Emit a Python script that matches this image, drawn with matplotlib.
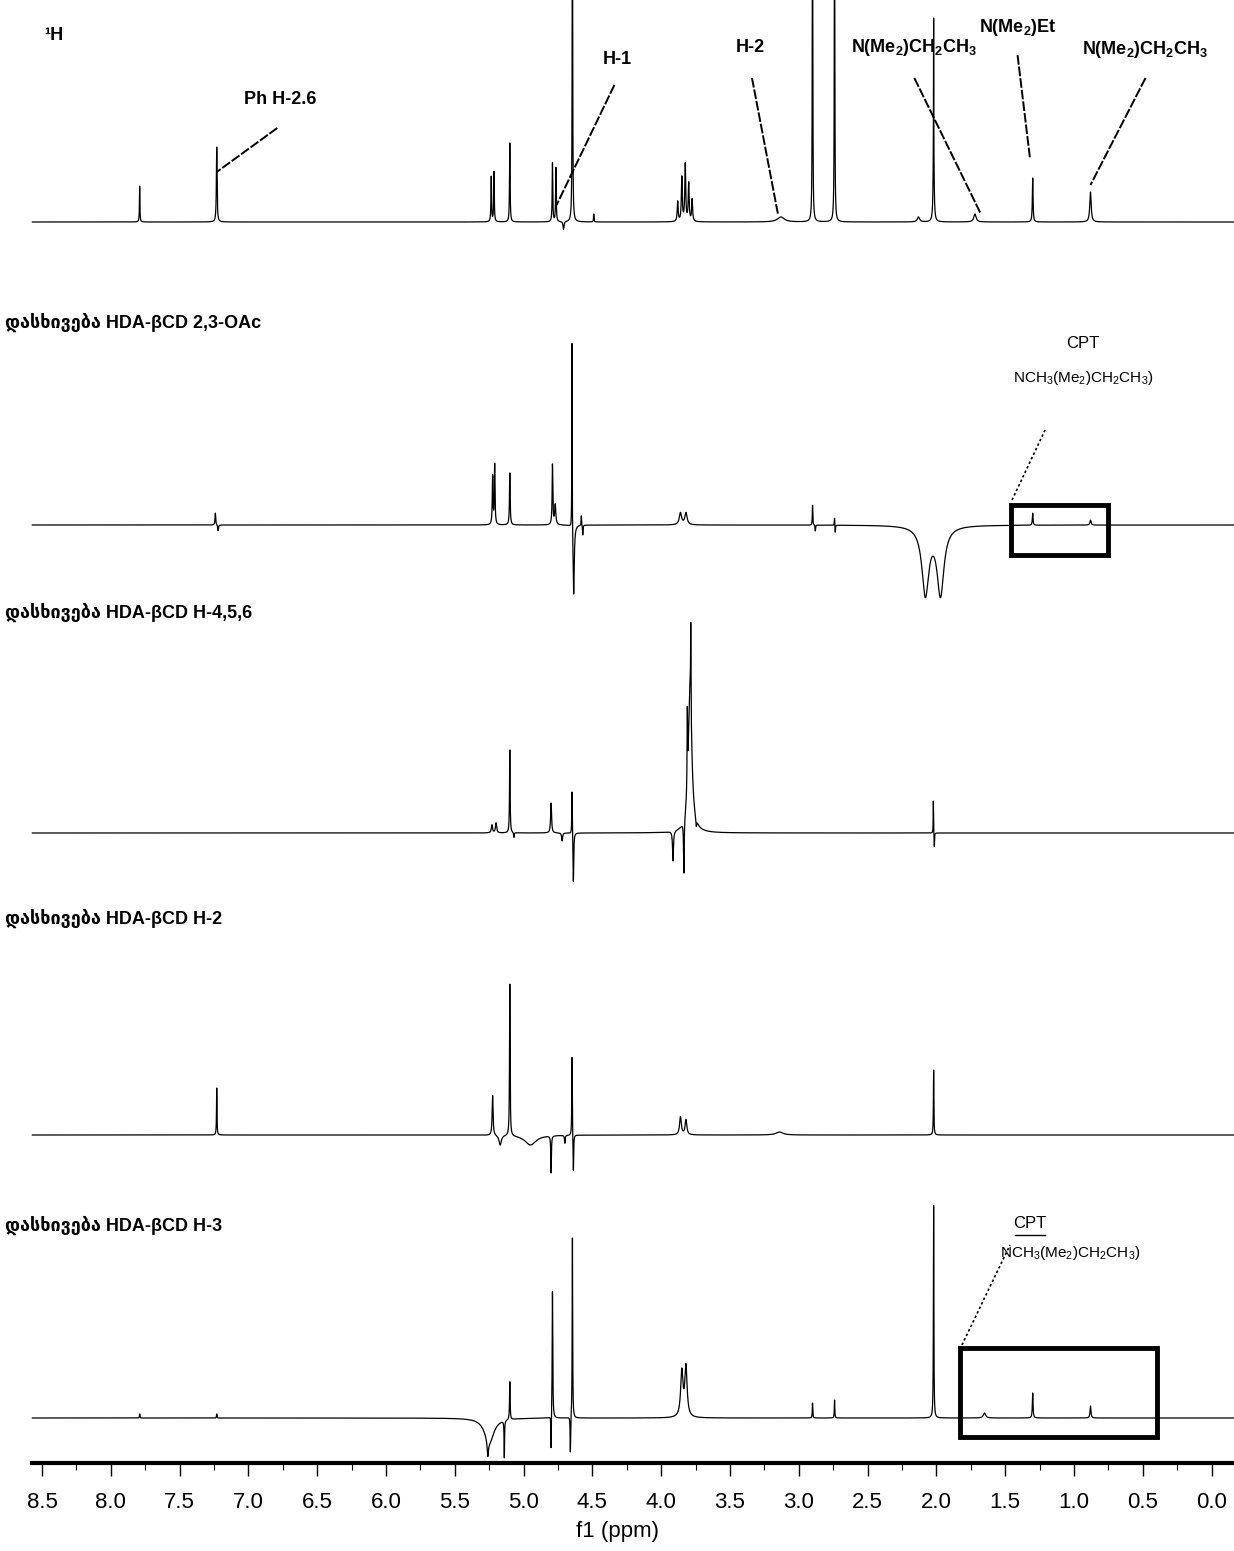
import numpy as np
import matplotlib
matplotlib.use("Agg")
import matplotlib.pyplot as plt
from matplotlib.patches import Rectangle

plt.rcParams['mathtext.default'] = 'regular'
FAM = ['Liberation Sans', 'DejaVu Sans']

# ---------------- data (peak lists) ----------------
trace_labels = ["¹H",
                "დასხივება HDA-βCD 2,3-OAc",
                "დასხივება HDA-βCD H-4,5,6",
                "დასხივება HDA-βCD H-2",
                "დასხივება HDA-βCD H-3"]

t1_pos = [7.79, 7.23, 5.235, 5.215, 5.10, 4.79, 4.765, 4.645, 4.71, 4.49, 3.88, 3.85, 3.825, 3.80, 3.775,
          3.13, 2.90, 2.74, 2.13, 2.02, 2.02, 1.72, 1.30, 0.88]
t1_h = [36, 75, 45, 50, 79, 59, 54, 400, -8, 8, 20, 44, 57, 38, 22,
        5, 400, 400, 5, 75, 130, 8, 44, 30]
t1_w = [0.004, 0.006, 0.005, 0.005, 0.005, 0.005, 0.005, 0.004, 0.008, 0.004, 0.008, 0.008, 0.008, 0.008, 0.008,
        0.06, 0.004, 0.004, 0.02, 0.008, 0.002, 0.02, 0.006, 0.012]

t2_pos = [7.24, 7.22, 5.225, 5.21, 5.10, 4.79, 4.77, 4.648, 4.636, 4.58, 4.57, 3.86, 3.82,
          2.90, 2.88, 2.74, 2.735, 2.08, 1.97, 1.30, 0.88]
t2_h = [12, -6, 48, 60, 52, 60, 20, 192, -72, 10, -10, 12, 12,
        20, -6, 8, -8, -68, -68, 12, 5]
t2_w = [0.006, 0.006, 0.006, 0.006, 0.006, 0.006, 0.01, 0.003, 0.01, 0.004, 0.004, 0.02, 0.02,
        0.004, 0.004, 0.004, 0.004, 0.06, 0.06, 0.006, 0.01]

t3_pos = [5.23, 5.20, 5.10, 5.07, 4.80, 4.72, 4.648, 4.638, 3.914, 3.835, 3.81, 3.79, 3.785, 3.745, 2.022, 2.015]
t3_h = [8, 10, 83, -5, 30, -8, 45, -50, -30, -55, 75, 145, 80, -8, 33, -15]
t3_w = [0.01, 0.01, 0.005, 0.005, 0.008, 0.008, 0.004, 0.006, 0.008, 0.006, 0.004, 0.03, 0.003, 0.006, 0.003, 0.004]

t4_pos = [7.23, 5.225, 5.17, 5.10, 4.95, 4.80, 4.70, 4.648, 4.638, 3.86, 3.82, 3.14, 2.02]
t4_h = [47, 40, -10, 152, -10, -37, -8, 80, -38, 18, 15, 3, 65]
t4_w = [0.004, 0.008, 0.02, 0.005, 0.1, 0.005, 0.006, 0.004, 0.005, 0.015, 0.015, 0.06, 0.004]

t5_pos = [7.79, 7.23, 5.25, 5.26, 5.14, 5.10, 4.80, 4.79, 4.66, 4.645, 3.85, 3.82, 2.90, 2.74, 2.02, 1.65, 1.30, 0.88]
t5_h = [4, 4, -25, -15, -37, 38, -37, 128, -37, 181, 45, 50, 15, 18, 213, 5, 25, 12]
t5_w = [0.004, 0.004, 0.08, 0.01, 0.004, 0.005, 0.004, 0.005, 0.004, 0.004, 0.02, 0.02, 0.004, 0.004, 0.004, 0.02, 0.006, 0.008]

tick_values = [8.5, 8.0, 7.5, 7.0, 6.5, 6.0, 5.5, 5.0, 4.5, 4.0, 3.5, 3.0, 2.5, 2.0, 1.5, 1.0, 0.5, 0.0]
tick_labels = ["8.5", "8.0", "7.5", "7.0", "6.5", "6.0", "5.5", "5.0", "4.5", "4.0",
               "3.5", "3.0", "2.5", "2.0", "1.5", "1.0", "0.5", "0.0"]

# ---------------- layout ----------------
W, H = 1234, 1551
fig = plt.figure(figsize=(W / 100, H / 100), dpi=100)
ax = fig.add_axes([0, (H - 1463) / H, 1, 1463 / H])
x_left, x_right = 8.805, -0.163
ax.set_xlim(x_left, x_right)
ax.set_ylim(0, 1463)

baselines = [1241, 938, 630, 328, 45]
x = np.linspace(8.57, x_right, 45000)


def spectrum(pos, h, w):
    y = np.zeros_like(x)
    for p, a, ww in zip(pos, h, w):
        y += a / (1 + ((x - p) / (ww / 2)) ** 2)
    return y


traces = [(t1_pos, t1_h, t1_w), (t2_pos, t2_h, t2_w), (t3_pos, t3_h, t3_w),
          (t4_pos, t4_h, t4_w), (t5_pos, t5_h, t5_w)]
for (p, h, w), b in zip(traces, baselines):
    ax.plot(x, b + spectrum(p, h, w), color='black', lw=0.9)

# trace titles
label_y = [1428, 1141, 851, 545, 238]
for i, (lab, yy) in enumerate(zip(trace_labels, label_y)):
    xx = 8.48 if i == 0 else 8.77
    ax.text(xx, yy, lab, fontsize=13, fontweight='bold', family=FAM, ha='left', va='center')

# top-trace annotations
ann = [("Ph H-2.6", (6.77, 1363), (6.79, 1335), (7.23, 1291)),
       ("H-1", (4.32, 1403), (4.34, 1378), (4.76, 1258)),
       ("H-2", (3.35, 1415), (3.34, 1385), (3.15, 1248)),
       ("N(Me$_2$)CH$_2$CH$_3$", (2.16, 1415), (2.16, 1385), (1.68, 1250)),
       ("N(Me$_2$)Et", (1.41, 1435), (1.41, 1408), (1.32, 1305)),
       ("N(Me$_2$)CH$_2$CH$_3$", (0.48, 1413), (0.48, 1385), (0.88, 1278))]
for txt, tp, l0, l1 in ann:
    ax.text(tp[0], tp[1], txt, fontsize=13, fontweight='bold', family=FAM, ha='center', va='center')
    ax.plot([l0[0], l1[0]], [l0[1], l1[1]], color='black', lw=1.4, ls=(0, (5, 1)))

# CPT boxes
cpt_lab = "NCH$_3$(Me$_2$)CH$_2$CH$_3$)"
# trace 2
ax.add_patch(Rectangle((1.458, 908), 0.753 - 1.458, 50, fill=False, lw=3.5, ec='black'))
ax.plot([1.45, 1.21], [963, 1033], color='black', lw=1.2, ls=(0, (1.5, 1.5)))
ax.text(0.935, 1120, "CPT", fontsize=12, family=FAM, ha='center', va='center')
ax.text(0.935, 1085, cpt_lab, fontsize=11, family=FAM, ha='center', va='center')
# trace 5
ax.add_patch(Rectangle((1.829, 26), 0.397 - 1.829, 89, fill=False, lw=3.5, ec='black'))
ax.plot([1.814, 1.465], [118, 218], color='black', lw=1.2, ls=(0, (1.5, 1.5)))
ax.text(1.32, 240, "CPT", fontsize=12, family=FAM, ha='center', va='center')
ax.plot([1.43, 1.21], [228, 228], color='black', lw=1.0)
ax.text(1.03, 210, cpt_lab, fontsize=11, family=FAM, ha='center', va='center')

# axis styling
for s in ['top', 'left', 'right']:
    ax.spines[s].set_visible(False)
ax.spines['bottom'].set_linewidth(3)
ax.spines['bottom'].set_bounds(x_right, 8.57)
ax.set_yticks([])
ax.set_xticks(tick_values)
ax.set_xticklabels(tick_labels, family=FAM, fontsize=16)
ax.set_xticks(np.arange(0.0, 8.6, 0.25), minor=True)
ax.tick_params(axis='x', which='major', direction='out', length=9, width=1, pad=12)
ax.tick_params(axis='x', which='minor', direction='out', length=5, width=0.8)
ax.set_xlabel("f1 (ppm)", family=FAM, fontsize=16, labelpad=6)

fig.savefig("out.png", dpi=100)
